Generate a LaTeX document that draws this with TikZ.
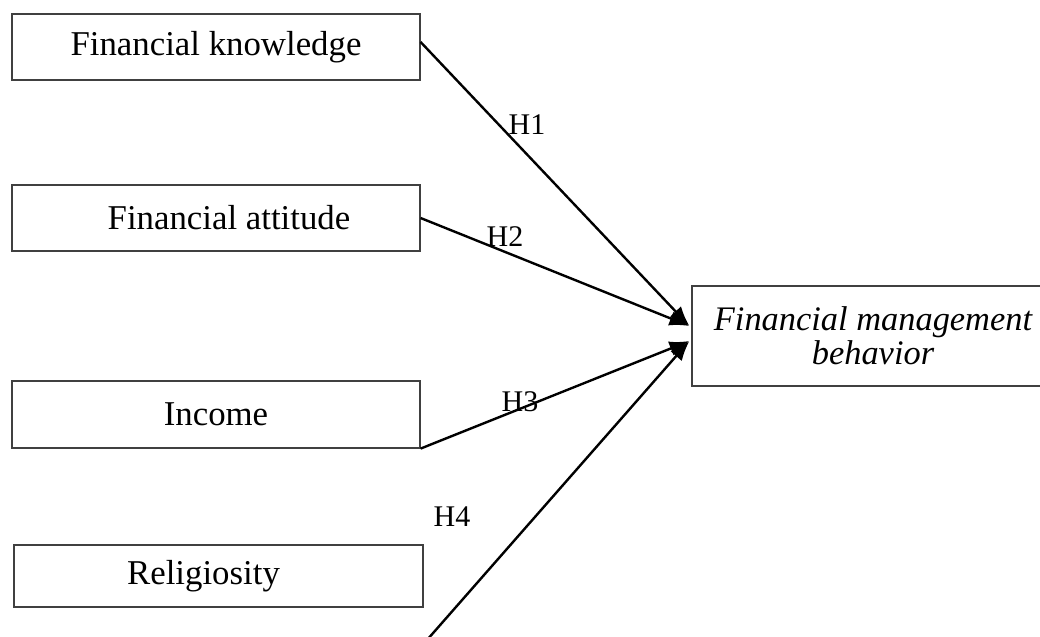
\documentclass[tikz,border=0pt]{standalone}
\usepackage{fontspec}
\setmainfont{Liberation Serif}
\usetikzlibrary{arrows.meta,positioning,calc}
\tikzset{
  factor/.style={draw=black!75,line width=0.6pt,minimum width=204pt,
    minimum height=33pt,inner sep=0pt,font=\fontsize{17.4}{17}\selectfont},
  outcome/.style={draw=black!75,line width=0.6pt,minimum width=181pt,
    minimum height=50pt,inner sep=0pt,align=center,
    font=\fontsize{17.2}{17}\selectfont\itshape},
  arrow/.style={-{Latex[length=10pt,width=7.5pt]},line width=1.2pt},
  hyp/.style={font=\fontsize{15}{15}\selectfont,inner sep=0pt}
}

\begin{document}
\begin{tikzpicture}[x=0.5pt,y=-0.5pt]
  \useasboundingbox (0,0) rectangle (1040,637);
  \node[factor] (know) at (216,47) {Financial knowledge};
  \node[factor] (att) at (216,218) {\hspace*{13pt}Financial attitude};
  \node[factor,minimum height=33.5pt] (inc) at (216,414.5) {Income};
  \node[factor,minimum height=31pt,minimum width=204.5pt] (rel) at (218.5,576)
    {Religiosity\hspace*{15pt}};
  \node[outcome] (fmb) at (873,336) {Financial management\\behavior};
  % arrow ends on the outcome box
  \coordinate (tipA) at ($(fmb.west)+(-2,-10)$);
  \coordinate (tipB) at ($(fmb.west)+(-2,5)$);
  \coordinate (relin) at (427,640);
  \draw[arrow] ($(know.east)+(0,-5)$) -- (tipA);
  \draw[arrow] (att.east) -- (tipA);
  \draw[arrow] (inc.south east) -- (tipB);
  \draw[arrow] (relin) -- (tipB);
  \node[hyp] (h1) at (527,125) {H1};
  \node[hyp] (h2) at (505,237) {H2};
  \node[hyp] (h3) at (520,402) {H3};
  \node[hyp] (h4) at (452,517) {H4};
\end{tikzpicture}
\end{document}
